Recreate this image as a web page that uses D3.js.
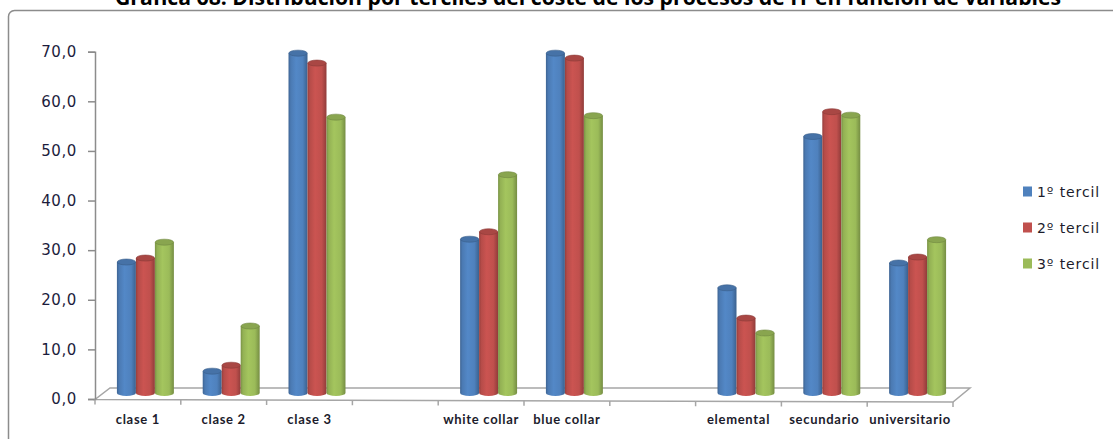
<!DOCTYPE html>
<html>
<head>
<meta charset="utf-8">
<script src="https://cdn.jsdelivr.net/npm/d3@7/dist/d3.min.js"></script>
<style>
  html, body { margin: 0; padding: 0; background: #fff; }
  svg { display: block; }
</style>
</head>
<body>
<svg id="chart" width="1113" height="439"></svg>
<script>
// Categories along the floor (blank entries are spacer slots between variable groups)
const categories = ["clase 1", "clase 2", "clase 3", "", "white collar", "blue collar", "", "elemental", "secundario", "universitario"];
const seriesNames = ["1º tercil", "2º tercil", "3º tercil"];
const tercil1 = [26.4, 4.4, 68.5, null, 31.0, 68.5, null, 21.2, 51.7, 26.2];
const tercil2 = [27.2, 5.6, 66.5, null, 32.5, 67.5, null, 15.1, 56.7, 27.4];
const tercil3 = [30.4, 13.5, 55.6, null, 44.0, 55.9, null, 12.1, 56.0, 30.9];
const yTicks = [0, 10, 20, 30, 40, 50, 60, 70];
const titleText = "Gráfica 68: Distribución por terciles del coste de los procesos de IT en función de variables";

const colors = ["#4F81BD", "#C0504D", "#9BBB59"];
const series = [tercil1, tercil2, tercil3];

const svg = d3.select("#chart");
const defs = svg.append("defs");

// Plot geometry
const plot = { left: 95, right: 953, top: 51.7, bottom: 399 };
const depth = { dx: 15, dy: -11 };     // floor depth offset
const barShift = { dx: 7.5, dy: -6 };  // bars stand in the middle of the floor depth

const y = d3.scaleLinear().domain([0, 70]).range([plot.bottom, plot.top]);
const x0 = d3.scaleBand()
  .domain(d3.range(categories.length))
  .range([plot.left, plot.right])
  .paddingInner(0.336)
  .paddingOuter(0.168);
const x1 = d3.scaleBand().domain(d3.range(series.length)).range([0, x0.bandwidth()]);

// Chart frame
svg.append("rect")
  .attr("x", 8.5).attr("y", 10.5).attr("width", 1130).attr("height", 460)
  .attr("rx", 6).attr("fill", "none").attr("stroke", "#8c8c8c").attr("stroke-width", 1.5);

// Title (runs off the top edge of the frame area)
const title = svg.append("text")
  .attr("x", 588).attr("y", 5)
  .attr("text-anchor", "middle")
  .attr("font-family", "'Open Sans', 'Liberation Sans', sans-serif")
  .attr("font-weight", "bold")
  .attr("font-size", 17)
  .attr("fill", "#000")
  .text(titleText);
const tw = title.node().getComputedTextLength();
title.attr("font-size", 17 * 947 / tw);

// Floor of the 3D plot
const floor = svg.append("g").attr("fill", "none").attr("stroke", "#a6a6a6").attr("stroke-width", 1.5);
floor.append("path").attr("d",
  `M${plot.left},${plot.bottom + 0.5} L${plot.right},${plot.bottom + 3}` +
  ` L${plot.right + depth.dx + 2},${plot.bottom + depth.dy}` +
  ` L${plot.left + depth.dx},${plot.bottom + depth.dy} Z`);

// Value axis
const yAxis = d3.axisLeft(y)
  .tickValues(yTicks)
  .tickSize(7)
  .tickPadding(11)
  .tickFormat(d => d3.format(".1f")(d).replace(".", ","));
const gy = svg.append("g").attr("transform", `translate(${plot.left},0)`).call(yAxis);
gy.select(".domain").attr("stroke", "#8c8c8c").attr("stroke-width", 1.5);
gy.selectAll(".tick line").attr("stroke", "#8c8c8c").attr("stroke-width", 1.5);
gy.selectAll(".tick text")
  .attr("font-family", "'DejaVu Sans', Verdana, sans-serif")
  .attr("font-size", 15)
  .attr("letter-spacing", 0.6)
  .attr("fill", "#1c1c3c");

// Category axis ticks (slot boundaries) and labels
const step = x0.step();
const boundaries = d3.range(categories.length + 1).map(i => plot.left + i * step);
const frontY = xx => plot.bottom + 0.5 + (xx - plot.left) / (plot.right - plot.left) * 2.5;
svg.append("g").selectAll("line").data(boundaries).join("line")
  .attr("x1", d => d).attr("x2", d => d)
  .attr("y1", d => frontY(d)).attr("y2", d => frontY(d) + 5)
  .attr("stroke", "#a6a6a6").attr("stroke-width", 1.5);
svg.append("g").selectAll("text").data(categories).join("text")
  .attr("x", (d, i) => x0(i) + x0.bandwidth() / 2)
  .attr("y", 423.5)
  .attr("text-anchor", "middle")
  .attr("font-family", "Lato, 'Open Sans', sans-serif")
  .attr("font-weight", "bold")
  .attr("font-size", 13)
  .attr("letter-spacing", 0.7)
  .attr("fill", "#1c1c2c")
  .text(d => d);

// Cylinder shading gradients
colors.forEach((c, i) => {
  const base = d3.color(c);
  const g = defs.append("linearGradient").attr("id", "cyl" + i)
    .attr("x1", "0%").attr("x2", "100%").attr("y1", "0%").attr("y2", "0%");
  g.append("stop").attr("offset", "0%").attr("stop-color", base.darker(0.7));
  g.append("stop").attr("offset", "12%").attr("stop-color", base.darker(0.15));
  g.append("stop").attr("offset", "40%").attr("stop-color", base.brighter(0.15));
  g.append("stop").attr("offset", "75%").attr("stop-color", base);
  g.append("stop").attr("offset", "100%").attr("stop-color", base.darker(0.8));
});

// Cylinders
const ry = 3;
const bars = svg.append("g").attr("transform", `translate(${barShift.dx},${barShift.dy})`);
categories.forEach((cat, ci) => {
  series.forEach((vals, si) => {
    const v = vals[ci];
    if (v == null) return;
    const bx = x0(ci) + x1(si);
    const w = x1.bandwidth();
    const cx = bx + w / 2;
    const top = y(v), bot = y(0);
    const rx = w / 2;
    const g = bars.append("g");
    g.append("path")
      .attr("d", `M${bx},${top} L${bx},${bot} A${rx},${ry} 0 0 0 ${bx + w},${bot} L${bx + w},${top} Z`)
      .attr("fill", `url(#cyl${si})`);
    g.append("ellipse")
      .attr("cx", cx).attr("cy", top).attr("rx", rx - 0.3).attr("ry", ry)
      .attr("fill", d3.color(colors[si]).darker(0.35))
      .attr("stroke", d3.color(colors[si]).darker(0.9)).attr("stroke-width", 0.6);
  });
});

// Legend
const legend = svg.append("g");
seriesNames.forEach((name, i) => {
  const ly = 191.5 + i * 36;
  legend.append("rect")
    .attr("x", 1023).attr("y", ly - 5).attr("width", 9).attr("height", 10)
    .attr("fill", colors[i]);
  legend.append("text")
    .attr("x", 1037).attr("y", ly + 5)
    .attr("font-family", "'DejaVu Sans', Verdana, sans-serif")
    .attr("font-size", 14)
    .attr("letter-spacing", 0.9)
    .attr("fill", "#1c1c2c")
    .text(name);
});
</script>
</body>
</html>
